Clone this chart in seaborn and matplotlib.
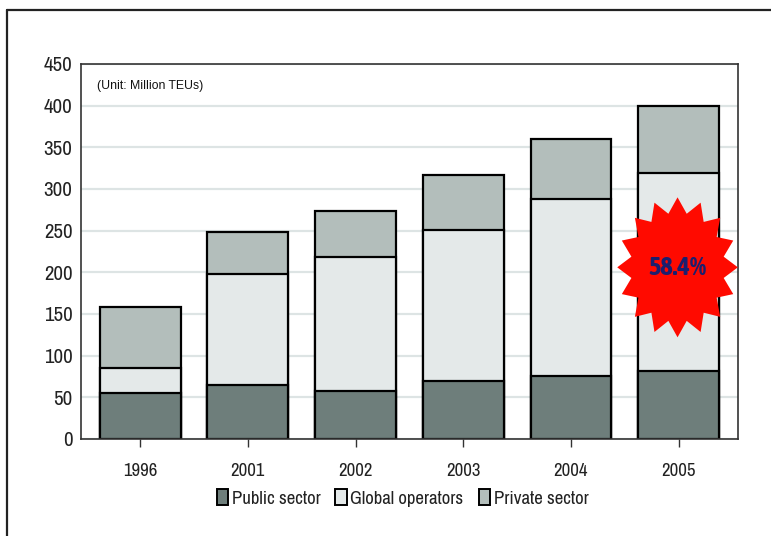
import numpy as np
import pandas as pd
import matplotlib
matplotlib.use("Agg")
import matplotlib.pyplot as plt
from matplotlib import font_manager
from matplotlib.patches import Patch, Polygon
from matplotlib.lines import Line2D
import seaborn as sns

years = ["1996", "2001", "2002", "2003", "2004", "2005"]
public_sector = [55, 65, 58, 70, 75, 82]
global_operators = [30, 133, 160, 181, 213, 237]
private_sector = [73, 50, 56, 66, 72, 81]
series_names = ["Public sector", "Global operators", "Private sector"]
series_colors = ["#6e7e7b", "#e4e9e9", "#b3bebb"]
y_ticks = [0, 50, 100, 150, 200, 250, 300, 350, 400, 450]
unit_label = "(Unit: Million TEUs)"
badge_text = "58.4%"

sns.set_theme(style="white")

# look for an installed narrow / condensed sans face
narrow_family = None
narrow_stretch = "normal"
for f in font_manager.fontManager.ttflist:
    nm = f.name.lower()
    if ("narrow" in nm or "condensed" in nm) and "mono" not in nm and "serif" not in nm.replace("sans serif", ""):
        narrow_family = f.name
        break
if narrow_family is None:
    for f in font_manager.fontManager.ttflist:
        st = str(f.stretch).lower()
        if st in ("condensed", "semi-condensed", "extra-condensed") and "mono" not in f.name.lower():
            narrow_family = f.name
            narrow_stretch = st
            break

if narrow_family is not None:
    base_family = [narrow_family, "DejaVu Sans"]
    scale = 1.0
else:
    base_family = ["Liberation Sans", "DejaVu Sans"]
    scale = 0.86
plt.rcParams["font.family"] = base_family
plt.rcParams["font.stretch"] = narrow_stretch

# bold face for the badge: a bold narrow face if one exists
bold_narrow = None
for f in font_manager.fontManager.ttflist:
    nm = f.name.lower()
    w = f.weight if isinstance(f.weight, int) else (700 if "bold" in str(f.weight).lower() else 400)
    if ("narrow" in nm or "condensed" in nm) and "mono" not in nm and w >= 600:
        bold_narrow = f.name
        break
if bold_narrow is not None:
    badge_family = [bold_narrow, "DejaVu Sans"]
    badge_size = 19
else:
    badge_family = ["Liberation Sans", "DejaVu Sans"]
    badge_size = 14.5

df = pd.DataFrame({
    "year": years,
    "public": public_sector,
    "global": global_operators,
    "private": private_sector,
})
df["lvl1"] = df["public"]
df["lvl2"] = df["public"] + df["global"]
df["lvl3"] = df["lvl2"] + df["private"]

fig = plt.figure(figsize=(7.71, 5.36), dpi=100)
ax = fig.add_axes([0.105, 0.181, 0.852, 0.6996])

ax.set_axisbelow(True)
ax.yaxis.grid(True, color="#dde4e4", linewidth=1.6)
ax.xaxis.grid(False)

for col, color in zip(["lvl3", "lvl2", "lvl1"], series_colors[::-1]):
    sns.barplot(data=df, x="year", y=col, color=color, edgecolor="black",
                linewidth=1.6, width=0.75, saturation=1, ax=ax, order=years)

ax.set_ylim(0, 450)
ax.set_xlim(-0.55, 5.55)
ax.set_yticks(y_ticks)
ax.set_yticklabels([str(v) for v in y_ticks], fontsize=15 * scale)
ax.set_xlabel("")
ax.set_ylabel("")
ax.tick_params(axis="y", length=0, pad=6, labelcolor="#222222")
ax.tick_params(axis="x", length=6, width=1.0, color="#333333", pad=11.5,
               labelsize=13.5 * scale, labelcolor="#222222", bottom=True)
for s in ax.spines.values():
    s.set_visible(True)
    s.set_color("#333333")
    s.set_linewidth(1.2)

ax.text(0.025, 0.958, unit_label, transform=ax.transAxes, fontsize=8.8,
        family=["Liberation Sans", "DejaVu Sans"], stretch="normal",
        color="#111111", va="top", ha="left")

# starburst badge on the 2005 bar
cx, cy = 4.99, 206
n_pts = 16
rx_out, ry_out = 0.56, 84
ratio_in = 0.78
angles = np.linspace(np.pi / 2, np.pi / 2 + 2 * np.pi, 2 * n_pts, endpoint=False)
radii = np.array([1.0 if i % 2 == 0 else ratio_in for i in range(2 * n_pts)])
xs = cx + rx_out * radii * np.cos(angles)
ys = cy + ry_out * radii * np.sin(angles)
star = Polygon(np.column_stack([xs, ys]), closed=True, facecolor="#ff0a00",
               edgecolor="none", zorder=5)
ax.add_patch(star)
ax.text(cx, cy, badge_text, ha="center", va="center", fontsize=badge_size,
        family=badge_family, stretch="normal" if bold_narrow is None else narrow_stretch,
        fontweight="bold", color="#1c1f6e", zorder=6)

handles = [Patch(facecolor=c, edgecolor="black", linewidth=1.4) for c in series_colors]
fig.legend(handles, series_names, loc="center", bbox_to_anchor=(0.522, 0.071),
           ncol=3, frameon=False, fontsize=13.5 * scale, handlelength=0.6,
           handleheight=0.9, handletextpad=0.2, columnspacing=0.8,
           labelcolor="#222222")

# outer frame lines (left and top)
fig.add_artist(Line2D([6.5 / 771, 6.5 / 771], [0, 1 - 10 / 536],
                      transform=fig.transFigure, color="#222222", linewidth=1.6))
fig.add_artist(Line2D([6.5 / 771, 1], [1 - 10 / 536, 1 - 10 / 536],
                      transform=fig.transFigure, color="#222222", linewidth=1.6))

fig.savefig("out.png", dpi=100)
